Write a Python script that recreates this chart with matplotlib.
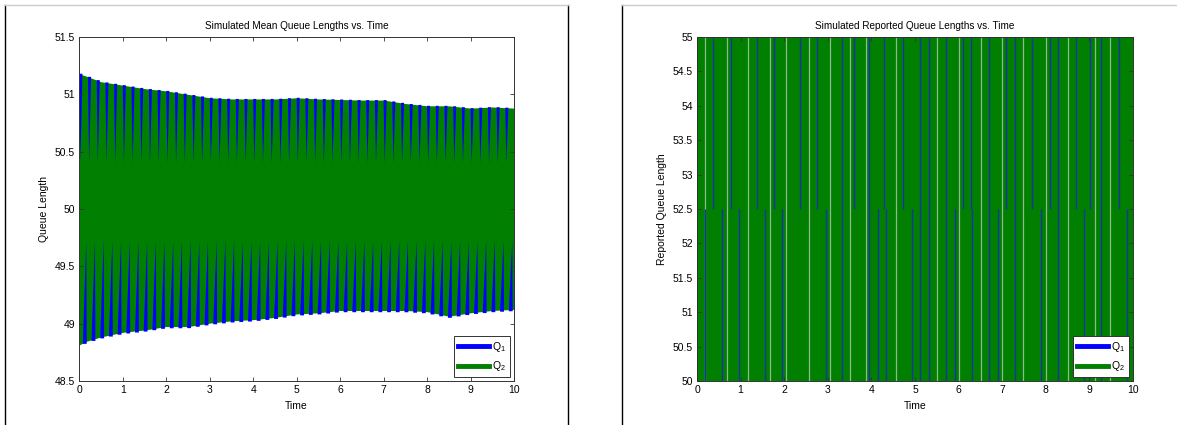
import numpy as np
import matplotlib.pyplot as plt
from matplotlib.lines import Line2D
from matplotlib.ticker import FuncFormatter, MultipleLocator

plt.rcParams['font.family'] = ['Liberation Sans', 'DejaVu Sans']
plt.rcParams['mathtext.default'] = 'regular'

BLUE = '#0000ff'
GREEN = '#007f00'
DARK_BLUE = '#1535a8'
LIGHT = '#8fb98f'

# --- left panel: simulated mean queue lengths (band envelopes)
env_t = [0.0, 0.15, 0.5, 1.0, 1.5, 2.0, 2.5, 3.0, 3.5, 4.0, 4.5,
         5.0, 5.5, 6.0, 6.5, 7.0, 7.5, 8.0, 8.5, 9.0, 9.5, 10.0]
env_top = [51.18, 51.16, 51.11, 51.08, 51.05, 51.03, 51.00, 50.97, 50.96, 50.96, 50.96,
           50.97, 50.96, 50.955, 50.95, 50.95, 50.92, 50.90, 50.90, 50.88, 50.89, 50.88]
env_bottom = [48.80, 48.83, 48.87, 48.91, 48.93, 48.96, 48.96, 48.99, 49.01, 49.02, 49.04,
              49.07, 49.08, 49.10, 49.10, 49.10, 49.10, 49.09, 49.05, 49.08, 49.10, 49.11]
# start of each oscillation where Q1 pokes out of the Q2 band
cycle_t = [0.0, 0.2, 0.4, 0.6, 0.8, 1.0, 1.2, 1.4, 1.6, 1.8,
           2.0, 2.2, 2.4, 2.6, 2.8, 3.0, 3.2, 3.4, 3.6, 3.8,
           4.0, 4.2, 4.4, 4.6, 4.8, 5.0, 5.2, 5.4, 5.6, 5.8,
           6.0, 6.2, 6.4, 6.6, 6.8, 7.0, 7.2, 7.4, 7.6, 7.8,
           8.0, 8.2, 8.4, 8.6, 8.8, 9.0, 9.2, 9.4, 9.6, 9.8]
q1_top_tip = 50.40
q1_bottom_tip = 49.72

# --- right panel: simulated reported queue lengths
rep_t = [0, 10]
q2_low, q2_high = 50, 55
q1_mid = 52.5
q1_upper_t = [0.37, 0.77, 1.37, 1.77, 2.36, 2.76, 3.33, 3.60, 3.94, 4.29, 4.73, 5.11, 5.31,
              5.72, 6.11, 6.29, 6.70, 7.09, 7.29, 7.69, 8.09, 8.29, 8.69, 9.01, 9.27, 9.69]
q1_lower_t = [0.18, 0.57, 0.96, 1.56, 1.96, 2.95, 3.33, 3.94, 4.14, 4.33, 4.92, 5.11, 5.31,
              5.72, 5.91, 6.31, 6.70, 6.90, 7.29, 7.88, 8.29, 8.88, 9.27, 9.87]
gap_t = [0.18, 0.68, 1.18, 1.67, 2.05, 2.57, 3.04, 3.52, 3.87, 4.57, 5.51, 6.01,
         6.51, 7.00, 7.48, 8.00, 8.50, 9.14, 9.48]

fig = plt.figure(figsize=(11.77, 4.25), dpi=100)
ax1 = fig.add_axes([0.0674, 0.1035, 0.3693, 0.8094])
ax2 = fig.add_axes([0.5922, 0.1035, 0.3704, 0.8094])

# left: Q2 band with Q1 spikes showing above and below
ax1.fill_between(env_t, np.array(env_bottom) + 0.015, env_top, color=GREEN, lw=0)
for c in cycle_t:
    top = np.interp(c, env_t, env_top)
    ax1.fill([c, c + 0.07, c + 0.025], [top, top, q1_top_tip], color=BLUE, lw=0)
    bot = np.interp(c + 0.12, env_t, env_bottom)
    ax1.fill([c + 0.08, c + 0.17, c + 0.16], [bot, bot, q1_bottom_tip], color=BLUE, lw=0)

# right: Q2 switching 50 <-> 55 fills the axes, Q1 shows as thin lines
ax2.fill_between(rep_t, q2_low, q2_high, color=GREEN, lw=0)
ax2.vlines(gap_t, q2_low, q2_high, color=LIGHT, lw=0.9)
ax2.vlines(q1_upper_t, q1_mid, q2_high, color=DARK_BLUE, lw=1.0)
ax2.vlines(q1_lower_t, q2_low, q1_mid, color=DARK_BLUE, lw=1.0)


def style(ax, ylim, ylabel, title):
    ax.set_xlim(0, 10)
    ax.set_ylim(*ylim)
    ax.xaxis.set_major_locator(MultipleLocator(1))
    ax.yaxis.set_major_locator(MultipleLocator(0.5))
    ax.yaxis.set_major_formatter(FuncFormatter(lambda v, p: '%g' % v))
    ax.tick_params(direction='in', top=True, right=True, length=3, width=0.6,
                   labelsize=7.5, pad=3, color='#333333')
    for s in ax.spines.values():
        s.set_color('#333333')
        s.set_linewidth(0.7)
    ax.set_title(title, fontsize=7.2, pad=6)
    ax.set_xlabel('Time', fontsize=7.5, labelpad=4)
    ax.set_ylabel(ylabel, fontsize=7.5, labelpad=4)
    handles = [Line2D([], [], color=BLUE, lw=3.5), Line2D([], [], color=GREEN, lw=3.5)]
    leg = ax.legend(handles, ['Q$_1$', 'Q$_2$'], loc='lower right', fontsize=7.5,
                    fancybox=False, edgecolor='#333333', framealpha=1,
                    handlelength=3.0, handletextpad=0.3, borderpad=0.4,
                    labelspacing=0.5, borderaxespad=0.35)
    leg.get_frame().set_linewidth(0.7)


style(ax1, (48.5, 51.5), 'Queue Length', 'Simulated Mean Queue Lengths vs. Time')
style(ax2, (50, 55), 'Reported Queue Length', 'Simulated Reported Queue Lengths vs. Time')

# frames of the two panels
W, H = 1177.0, 425.0
for x in (5, 568, 622):
    fig.add_artist(Line2D([x / W, x / W], [0, 1 - 5 / H], transform=fig.transFigure,
                          color='black', lw=1.0))
for x0, x1 in ((5, 568), (622, 1177)):
    fig.add_artist(Line2D([x0 / W, x1 / W], [1 - 5 / H, 1 - 5 / H], transform=fig.transFigure,
                          color='#cccccc', lw=1.0))

fig.savefig('out.png', dpi=100)
